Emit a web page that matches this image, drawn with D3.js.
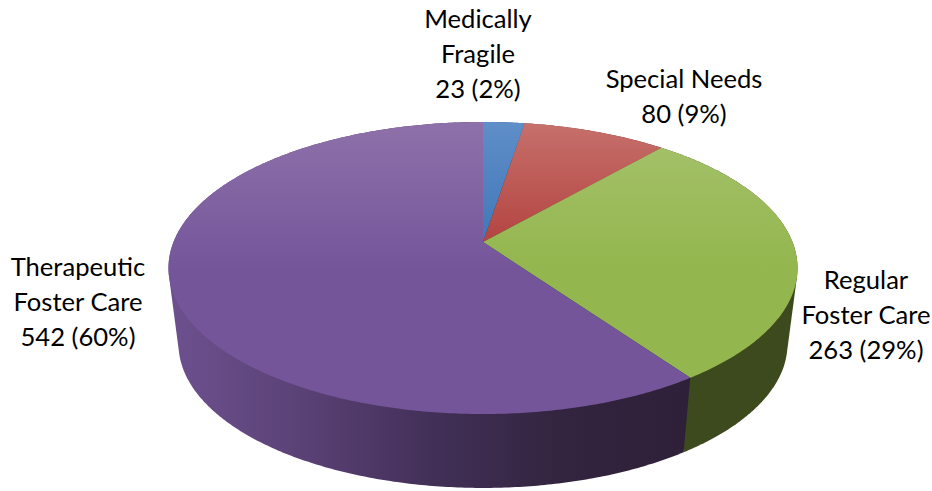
<!DOCTYPE html>
<html>
<head>
<meta charset="utf-8">
<script src="https://cdn.jsdelivr.net/npm/d3@7"></script>
<style>
  html, body { margin: 0; padding: 0; background: #fff; }
  svg { display: block; }
  text { font-family: Lato, "Open Sans", sans-serif; font-size: 25.6px; fill: #000; text-anchor: middle; }
</style>
</head>
<body>
<svg id="chart" width="932" height="491"></svg>
<script>
const categories = ["Medically Fragile", "Special Needs", "Regular Foster Care", "Therapeutic Foster Care"]
const values = [23, 80, 263, 542]
const percents = [2, 9, 29, 60]
const labelLines = [["Medically", "Fragile"], ["Special Needs"], ["Regular", "Foster Care"], ["Therapeutic", "Foster Care"]]
const labelPos = [[478, 28], [684, 88], [866, 289], [78, 276]]
const topColors = [["#5f8ec8", "#3a72b4"], ["#c6706c", "#b03a36"], ["#a6c26c", "#93b64e"], ["#8e71aa", "#74559a"]]
const wallColors = [["#2f5584"], ["#7d2b28"], ["#3d4a1d"], ["#6c508e", "#5a4175", "#423058", "#33243f", "#2e2038"]]

const width = 932, height = 491
const cx = 483, topY = 242, radX = 309.5, radY = 141.4, persp = 0.178
const wallScaleX = 0.968, wallScaleY = 0.985, wallY = 318.5

const svg = d3.select("#chart")
const defs = svg.append("defs")

// circle on the table -> screen, with the perspective the pie was drawn in
function project(angle, sx, sy, y0) {
    const u = Math.sin(angle), v = -Math.cos(angle)
    const w = 1 - persp * v
    return [cx + sx * radX * u / w, y0 + sy * radY * v / w]
}

const arcs = d3.pie().sort(null)(values)
const line = d3.line()

function arcPoints(a, b, sx, sy, y0) {
    const n = Math.max(2, Math.ceil((b - a) / 0.01))
    return d3.range(n + 1).map(i => project(a + (b - a) * i / n, sx, sy, y0))
}

arcs.forEach((d, i) => {
    const topGrad = defs.append("linearGradient")
        .attr("id", "top-" + i)
        .attr("gradientUnits", "userSpaceOnUse")
        .attr("x1", 0).attr("x2", 0).attr("y1", 122).attr("y2", 270)
    topGrad.append("stop").attr("offset", 0).attr("stop-color", topColors[i][0])
    topGrad.append("stop").attr("offset", 1).attr("stop-color", topColors[i][1])

    const wallGrad = defs.append("linearGradient")
        .attr("id", "wall-" + i)
        .attr("gradientUnits", "userSpaceOnUse")
        .attr("y1", 0).attr("y2", 0).attr("x1", 175).attr("x2", 690)
    wallColors[i].forEach((c, k, all) => {
        wallGrad.append("stop")
            .attr("offset", all.length > 1 ? k / (all.length - 1) : 0)
            .attr("stop-color", c)
    })
})

// walls first, the top covers whatever is behind it
arcs.forEach((d, i) => {
    const top = arcPoints(d.startAngle, d.endAngle, 1, 1, topY)
    const bottom = arcPoints(d.startAngle, d.endAngle, wallScaleX, wallScaleY, wallY)
    svg.append("path")
        .attr("d", line(d3.polygonHull(top.concat(bottom))) + "Z")
        .attr("fill", `url(#wall-${i})`)
})

arcs.forEach((d, i) => {
    const pts = [[cx, topY]].concat(arcPoints(d.startAngle, d.endAngle, 1, 1, topY))
    svg.append("path")
        .attr("d", line(pts) + "Z")
        .attr("fill", `url(#top-${i})`)
})

categories.forEach((c, i) => {
    const lines = labelLines[i].concat(`${values[i]} (${percents[i]}%)`)
    const t = svg.append("text")
    lines.forEach((s, k) => {
        t.append("tspan")
            .attr("x", labelPos[i][0])
            .attr("y", labelPos[i][1] + k * 35)
            .text(s)
    })
})
</script>
</body>
</html>
